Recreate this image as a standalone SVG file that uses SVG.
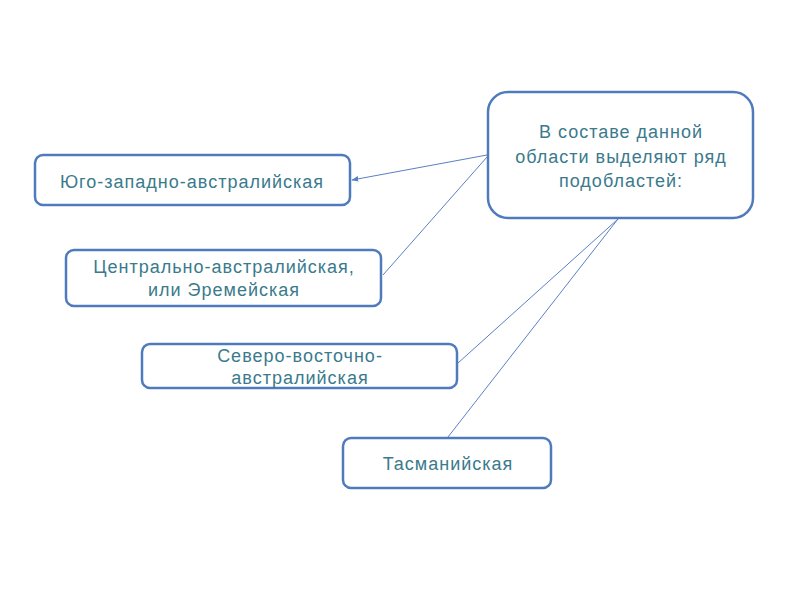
<svg xmlns="http://www.w3.org/2000/svg" width="800" height="600" viewBox="0 0 800 600">
<defs>
<style>
.box{fill:#fff;stroke:#4f7bbd;stroke-width:2.5}
.t{font-family:"Liberation Sans",Arial,sans-serif;font-size:18px;letter-spacing:1px;fill:#3a7a8c;text-anchor:middle}
.c{stroke:#5a80c4;stroke-width:1;fill:none}
</style>
<marker id="ah" viewBox="0 0 10 10" refX="9" refY="5" markerWidth="7" markerHeight="7" orient="auto" markerUnits="userSpaceOnUse">
<path d="M0,1 L10,5 L0,9 z" fill="#5a80c4"/>
</marker>
</defs>
<rect width="800" height="600" fill="#fff"/>
<g id="connectors">
<line class="c" x1="487" y1="155" x2="352" y2="180" marker-end="url(#ah)"/>
<line class="c" x1="487" y1="157" x2="383" y2="275"/>
<line class="c" x1="618" y1="219" x2="458" y2="363"/>
<line class="c" x1="618" y1="219" x2="448" y2="437"/>
</g>
<g id="main">
<rect class="box" x="488" y="92" width="265" height="126" rx="20"/>
<text class="t" x="621" y="138">В составе данной</text>
<text class="t" x="621" y="163">области выделяют ряд</text>
<text class="t" x="621" y="187">подобластей:</text>
</g>
<g id="n1">
<rect class="box" x="35" y="155" width="315" height="50" rx="8"/>
<text class="t" x="192" y="188">Юго-западно-австралийская</text>
</g>
<g id="n2">
<rect class="box" x="66" y="250" width="315" height="56" rx="8"/>
<text class="t" x="224" y="273">Центрально-австралийская,</text>
<text class="t" x="224" y="296">или Эремейская</text>
</g>
<g id="n3">
<rect class="box" x="142" y="344" width="315" height="44" rx="8"/>
<text class="t" x="300" y="362">Северо-восточно-</text>
<text class="t" x="300" y="384">австралийская</text>
</g>
<g id="n4">
<rect class="box" x="343" y="438" width="208" height="50" rx="8"/>
<text class="t" x="448" y="470">Тасманийская</text>
</g>
</svg>
